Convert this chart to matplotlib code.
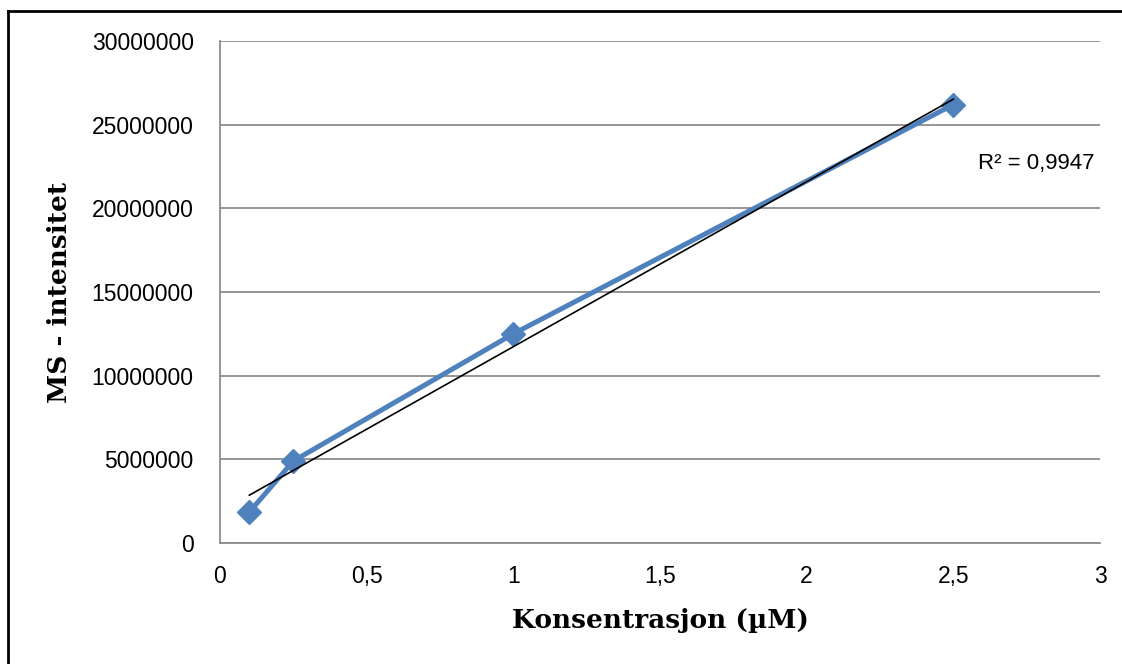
import numpy as np
import matplotlib.pyplot as plt
from matplotlib.lines import Line2D

# data
konsentrasjon = [0.1, 0.25, 1.0, 2.5]
intensitet = [1850000, 4900000, 12500000, 26200000]
r2_label = 'R² = 0,9947'

x_ticks = [0, 0.5, 1, 1.5, 2, 2.5, 3]
x_ticklabels = ['0', '0,5', '1', '1,5', '2', '2,5', '3']
y_ticks = [0, 5000000, 10000000, 15000000, 20000000, 25000000, 30000000]

fig = plt.figure(figsize=(11.22, 6.64), dpi=100)
ax = fig.add_axes([220 / 1122, 1 - 543 / 664, 880 / 1122, 502 / 664])

# linear trendline over the data range
slope, intercept = np.polyfit(konsentrasjon, intensitet, 1)
xt = np.array([min(konsentrasjon), max(konsentrasjon)])

ax.plot(konsentrasjon, intensitet, color='#4F81BD', lw=3.6, marker='D',
        markersize=12, solid_joinstyle='round', zorder=3)
ax.plot(xt, slope * xt + intercept, color='black', lw=1.2, zorder=4)

ax.set_xlim(0, 3)
ax.set_ylim(0, 30000000)
ax.set_xticks(x_ticks)
ax.set_xticklabels(x_ticklabels)
ax.set_yticks(y_ticks)
ax.set_yticklabels([str(v) for v in y_ticks])
ax.tick_params(length=0, labelsize=16.5)
for lab in ax.get_xticklabels() + ax.get_yticklabels():
    lab.set_family('Liberation Sans')
ax.tick_params(axis='y', pad=19)
ax.tick_params(axis='x', pad=16)

ax.grid(axis='y', color='#8C8C8C', lw=1.3)
ax.set_axisbelow(True)
for s in ['top', 'right']:
    ax.spines[s].set_visible(False)
for s in ['left', 'bottom']:
    ax.spines[s].set_color('#8C8C8C')
    ax.spines[s].set_linewidth(1.3)

ax.set_xlabel('Konsentrasjon (µM)', fontsize=19, fontweight='bold',
              family='DejaVu Serif', labelpad=14)
ax.set_ylabel('MS - intensitet', fontsize=19, fontweight='bold',
              family='DejaVu Serif', labelpad=14)

ax.text(2.585, 22700000, r2_label, fontsize=16, family='Liberation Sans',
        va='center', ha='left')

# outer chart border (only top and left are visible in the crop)
fig.add_artist(Line2D([7.5 / 1122, 7.5 / 1122], [0, 1 - 10.5 / 664],
                      transform=fig.transFigure, color='black', lw=2))
fig.add_artist(Line2D([7.5 / 1122, 1], [1 - 10.5 / 664, 1 - 10.5 / 664],
                      transform=fig.transFigure, color='black', lw=2))

fig.savefig('out.png', dpi=100)
